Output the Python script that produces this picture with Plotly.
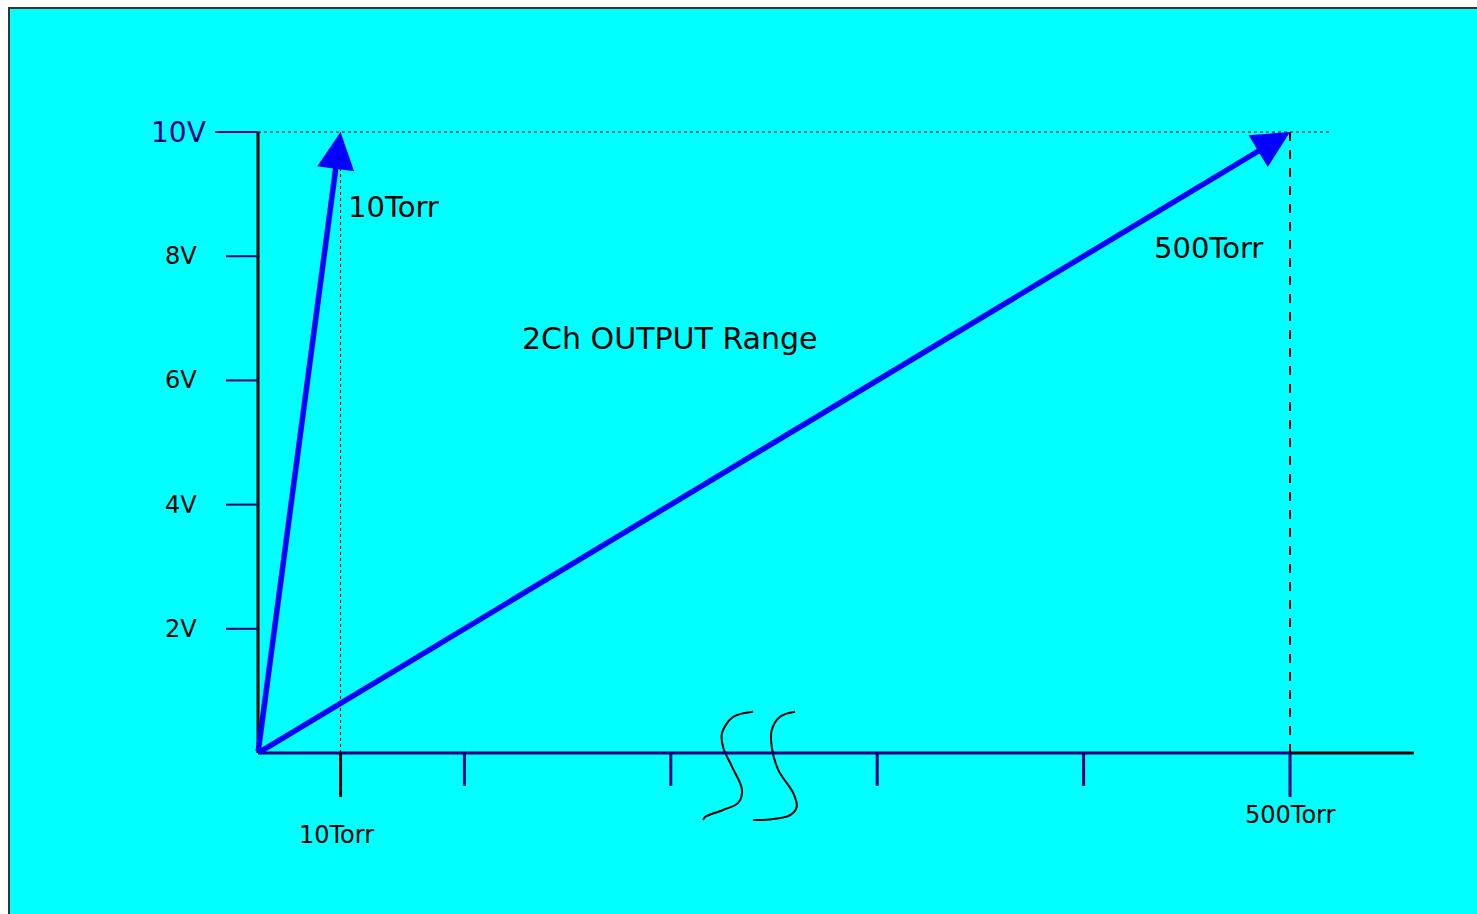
import plotly.graph_objects as go

# ---- data ----
volt_ticks = [2, 4, 6, 8, 10]
volt_labels = ["2V", "4V", "6V", "8V", "10V"]
torr_ticks = [100, 200, 300, 400, 500]
full_scale_volt = 10
range_torr = [10, 500]
# schematic x position of the 10 Torr mark (axis is broken / not to scale)
pos_10torr = 40
axis_end_x = 560
dotted_end_x = 520

# axis break marks (schematic decoration, data units)
break1_x = [239.9, 230.1, 224.8, 225.3, 229.7, 234.5, 232.6, 225.3, 216.6, 215.6]
break1_y = [0.665, 0.58, 0.32, 0.097, -0.225, -0.596, -0.805, -0.918, -1.03, -1.08]
break2_x = [260.2, 252.9, 248.9, 248.9, 252.1, 259.4, 261.0, 257.8, 248.1, 240.0]
break2_y = [0.665, 0.585, 0.37, 0.10, -0.275, -0.65, -0.865, -1.0, -1.07, -1.08]

FONT = "DejaVu Sans"
NAVY = "#000080"
BLUE = "#0000FF"

fig = go.Figure()

for bx, by in [(break1_x, break1_y), (break2_x, break2_y)]:
    fig.add_trace(go.Scatter(x=bx, y=by, mode="lines",
                             line=dict(color="black", width=2, shape="spline", smoothing=1.0),
                             hoverinfo="skip", showlegend=False))

shapes = []
# background panel
shapes.append(dict(type="rect", xref="paper", yref="paper", x0=9/1477, x1=1.02, y0=-0.02, y1=1-8/914,
                   fillcolor="#00FFFF", line=dict(color="#333333", width=2), layer="below"))
# dotted 10V line
shapes.append(dict(type="line", xref="x", yref="y", x0=0, x1=dotted_end_x, y0=full_scale_volt, y1=full_scale_volt,
                   line=dict(color="black", width=1, dash="dot")))
# dotted vertical at 10 Torr
shapes.append(dict(type="line", xref="x", yref="y", x0=pos_10torr, x1=pos_10torr, y0=0, y1=full_scale_volt,
                   line=dict(color="black", width=1, dash="dot")))
# dashed vertical at 500 Torr
shapes.append(dict(type="line", xref="x", yref="y", x0=range_torr[1], x1=range_torr[1], y0=0, y1=full_scale_volt,
                   line=dict(color="black", width=2, dash="dash")))
# y axis
shapes.append(dict(type="line", xref="x", yref="y", x0=0, x1=0, y0=0, y1=full_scale_volt,
                   line=dict(color="black", width=3)))
# x axis
shapes.append(dict(type="line", xref="x", yref="y", x0=range_torr[1], x1=axis_end_x, y0=0, y1=0,
                   line=dict(color="black", width=3)))
shapes.append(dict(type="line", xref="x", yref="y", x0=0, x1=range_torr[1], y0=0, y1=0,
                   line=dict(color=NAVY, width=3)))
# y ticks
for v in volt_ticks:
    x0 = -20.8 if v == full_scale_volt else -15.5
    shapes.append(dict(type="line", xref="x", yref="y", x0=x0, x1=0, y0=v, y1=v,
                       line=dict(color=NAVY, width=2)))
# x ticks
for t in torr_ticks:
    y1 = -0.71 if t == range_torr[1] else -0.53
    shapes.append(dict(type="line", xref="x", yref="y", x0=t, x1=t, y0=0, y1=y1,
                       line=dict(color=NAVY, width=3)))
shapes.append(dict(type="line", xref="x", yref="y", x0=pos_10torr, x1=pos_10torr, y0=0, y1=-0.71,
                   line=dict(color="black", width=3)))

annotations = []
# arrows
for tx in [pos_10torr, range_torr[1]]:
    annotations.append(dict(x=tx, y=full_scale_volt, ax=0, ay=0, xref="x", yref="y", axref="x", ayref="y",
                            text="", showarrow=True, arrowhead=2, arrowsize=1.35, arrowwidth=5.5,
                            arrowcolor=BLUE))
# y labels
for v, lab in zip(volt_ticks, volt_labels):
    if v == full_scale_volt:
        annotations.append(dict(x=-24.2, y=v, xref="x", yref="y", text=lab, showarrow=False,
                                xanchor="right", yanchor="middle",
                                font=dict(family=FONT, size=28, color=NAVY)))
    else:
        annotations.append(dict(x=-28.6, y=v, xref="x", yref="y", text=lab, showarrow=False,
                                xanchor="right", yanchor="middle",
                                font=dict(family=FONT, size=24, color="black")))
# text labels
annotations.append(dict(x=42.6, y=8.79, xref="x", yref="y", text="10Torr", showarrow=False,
                        xanchor="left", yanchor="middle", font=dict(family=FONT, size=29, color="black")))
annotations.append(dict(x=433.1, y=8.13, xref="x", yref="y", text="500Torr", showarrow=False,
                        xanchor="left", yanchor="middle", font=dict(family=FONT, size=29, color="black")))
annotations.append(dict(x=199.6, y=6.67, xref="x", yref="y", text="2Ch OUTPUT Range", showarrow=False,
                        xanchor="center", yanchor="middle", font=dict(family=FONT, size=30, color="black")))
annotations.append(dict(x=37.8, y=-1.32, xref="x", yref="y", text="10Torr", showarrow=False,
                        xanchor="center", yanchor="middle", font=dict(family=FONT, size=24, color="black")))
annotations.append(dict(x=500, y=-1.0, xref="x", yref="y", text="500Torr", showarrow=False,
                        xanchor="center", yanchor="middle", font=dict(family=FONT, size=24, color="black")))

fig.update_layout(
    width=1477, height=914, autosize=False,
    margin=dict(l=0, r=0, t=0, b=0),
    paper_bgcolor="white", plot_bgcolor="rgba(0,0,0,0)",
    xaxis=dict(range=[-125, 590.6], visible=False, fixedrange=True),
    yaxis=dict(range=[-2.593, 12.126], visible=False, fixedrange=True),
    shapes=shapes, annotations=annotations, showlegend=False,
)

fig.write_html("out.html", config={"displayModeBar": False},
               post_script="document.body.style.margin='0';document.body.style.overflow='hidden';")
